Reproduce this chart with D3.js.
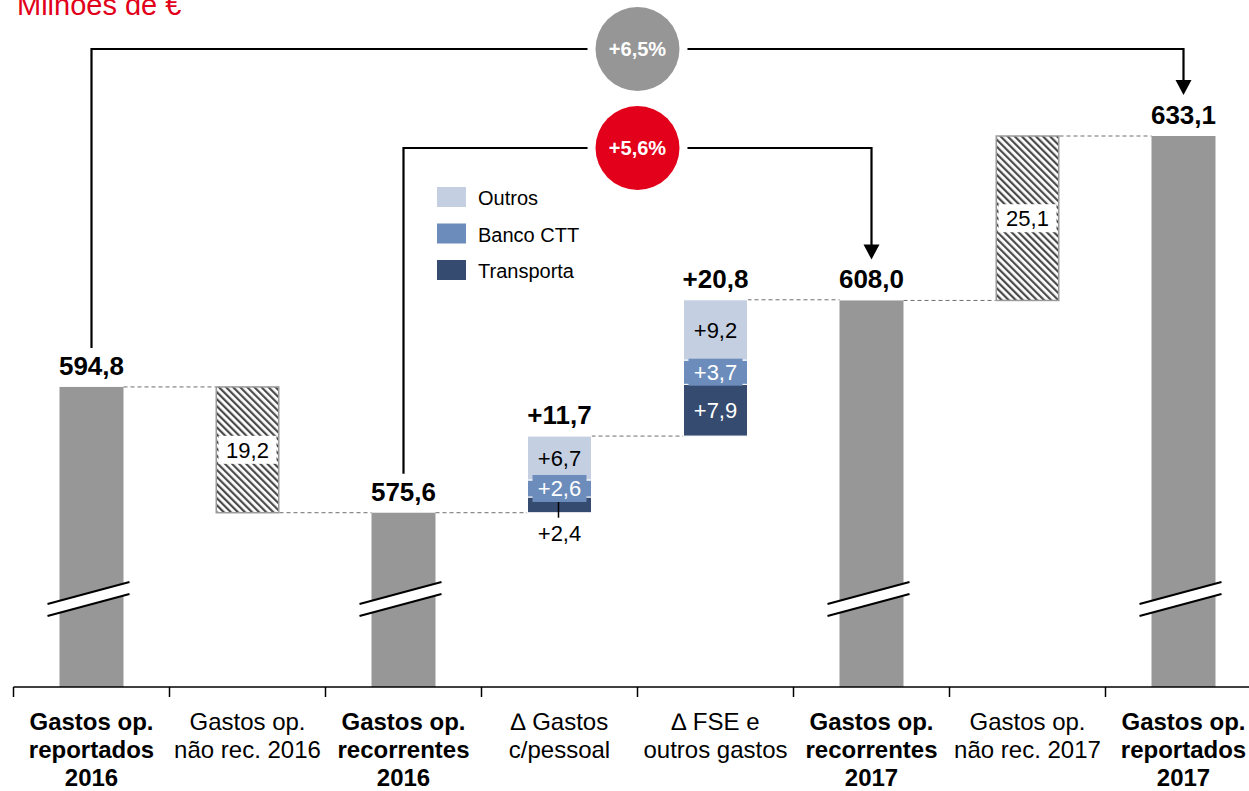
<!DOCTYPE html>
<html><head><meta charset="utf-8">
<script src="https://cdn.jsdelivr.net/npm/d3@7"></script>
<style>
html,body{margin:0;padding:0;background:#fff;}
svg{display:block;font-family:Arial,"Liberation Sans",sans-serif;}
</style></head>
<body>
<svg id="chart" width="1249" height="791"></svg>
<script>
// ---------- data ----------
const categoryLabels = [
  ["Gastos op.", "reportados", "2016"],
  ["Gastos op.", "não rec. 2016"],
  ["Gastos op.", "recorrentes", "2016"],
  ["∆ Gastos", "c/pessoal"],
  ["∆ FSE e", "outros gastos"],
  ["Gastos op.", "recorrentes", "2017"],
  ["Gastos op.", "não rec. 2017"],
  ["Gastos op.", "reportados", "2017"]
];
const barTypes = ["total", "hatch", "total", "stack", "stack", "total", "hatch", "total"];
const totalValues = [594.8, 575.6, 608.0, 633.1];      // bold total bars
const nonRecurring = [19.2, 25.1];                      // hatched bars (reduction 2016, increase 2017)
const seriesNames = ["Transporta", "Banco CTT", "Outros"];
const seriesColors = ["#354b70", "#6c8cbb", "#c4cfe2"];
const deltaPessoal = [2.4, 2.6, 6.7];
const deltaFSE = [7.9, 3.7, 9.2];
const deltaTotals = ["+11,7", "+20,8"];
const growthLabels = ["+6,5%", "+5,6%"];
const axisBase = 549.0;

// ---------- setup ----------
const svg = d3.select("#chart");
const axisY = 687;
const x = d3.scaleBand().domain(d3.range(8)).range([13.5, 13.5 + 156 * 8]).paddingInner(0).paddingOuter(0);
const y = d3.scaleLinear().domain([axisBase, 633.1]).range([axisY, 136]);
const barW = 64;
const cx = i => x(i) + x.bandwidth() / 2;
const fmt = v => d3.format(".1f")(v).replace(".", ",");
const grayBar = "#979797";
const red = "#e2001a";

// defs: hatch pattern
const defs = svg.append("defs");
const pat = defs.append("pattern").attr("id", "hatch").attr("patternUnits", "userSpaceOnUse")
  .attr("width", 5).attr("height", 5).attr("patternTransform", "rotate(-45)");
pat.append("rect").attr("width", 5).attr("height", 5).attr("fill", "#fff");
pat.append("rect").attr("width", 2.2).attr("height", 5).attr("fill", "#4a4a4a");

// title
svg.append("text").attr("x", 17).attr("y", 15).attr("fill", red)
  .attr("font-size", 29).text("Milhões de €");

// ---------- compute waterfall ----------
const bars = [];
let ti = 0, hi = 0, si = 0;
let level = totalValues[0];
const stacks = [deltaPessoal, deltaFSE];
barTypes.forEach((t, i) => {
  if (t === "total") {
    level = totalValues[ti++];
    bars.push({i, type: t, lo: axisBase, hi: level});
  } else if (t === "hatch") {
    const v = nonRecurring[hi];
    const prev = level;
    const next = hi === 0 ? prev - v : prev + v;
    bars.push({i, type: t, lo: Math.min(prev, next), hi: Math.max(prev, next), v});
    hi++;
  } else {
    const vals = stacks[si];
    let base = level;
    const segs = vals.map((v, k) => { const s = {k, lo: base, hi: base + v, v}; base += v; return s; });
    bars.push({i, type: t, lo: level, hi: base, segs, label: deltaTotals[si]});
    level = base; si++;
  }
});

// connectors (dashed)
const conn = svg.append("g");
bars.forEach((b, idx) => {
  if (idx === bars.length - 1) return;
  const nb = bars[idx + 1];
  let lv;
  if (b.type === "hatch") lv = (idx === 1) ? b.lo : b.hi;
  else lv = b.hi;
  conn.append("line")
    .attr("x1", cx(b.i) + barW / 2).attr("x2", cx(nb.i) - barW / 2)
    .attr("y1", y(lv)).attr("y2", y(lv))
    .attr("stroke", "#6e6e6e").attr("stroke-width", 1).attr("stroke-dasharray", "4,3");
});

// bars
const g = svg.append("g");
bars.forEach(b => {
  const x0 = cx(b.i) - barW / 2;
  if (b.type === "total") {
    g.append("rect").attr("x", x0).attr("width", barW)
      .attr("y", y(b.hi)).attr("height", y(b.lo) - y(b.hi)).attr("fill", grayBar);
    g.append("text").attr("x", cx(b.i)).attr("y", y(b.hi) - 12).attr("text-anchor", "middle")
      .attr("font-weight", "bold").attr("font-size", 26).attr("fill", "#000").text(fmt(b.hi));
    // axis break
    const by = axisY - 88;
    const bx1 = cx(b.i) - 44, bx2 = cx(b.i) + 38;
    const dy = 11;
    g.append("polygon").attr("points", `${bx1},${by + dy - 6} ${bx2},${by - dy - 6} ${bx2},${by - dy + 6} ${bx1},${by + dy + 6}`)
      .attr("fill", "#fff");
    [-6, 6].forEach(o => g.append("line").attr("x1", bx1).attr("y1", by + dy + o).attr("x2", bx2).attr("y2", by - dy + o)
      .attr("stroke", "#000").attr("stroke-width", 2));
  } else if (b.type === "hatch") {
    g.append("rect").attr("x", x0 + 0.75).attr("width", barW - 1.5)
      .attr("y", y(b.hi)).attr("height", y(b.lo) - y(b.hi))
      .attr("fill", "url(#hatch)").attr("stroke", "#9a9a9a").attr("stroke-width", 1.5);
    const my = (y(b.hi) + y(b.lo)) / 2;
    g.append("rect").attr("x", x0 + 3).attr("width", barW - 6).attr("y", my - 14).attr("height", 28).attr("fill", "#fff");
    g.append("text").attr("x", cx(b.i)).attr("y", my + 8).attr("text-anchor", "middle")
      .attr("font-size", 22).attr("fill", "#000").text(fmt(b.v));
  } else {
    b.segs.forEach(s => {
      g.append("rect").attr("x", x0).attr("width", barW)
        .attr("y", y(s.hi)).attr("height", y(s.lo) - y(s.hi))
        .attr("fill", seriesColors[s.k]).attr("stroke", "#fff").attr("stroke-width", 1);
    });
    b.segs.forEach(s => {
      const h = y(s.lo) - y(s.hi);
      const txt = "+" + fmt(s.v);
      const tc = s.k === 2 ? "#000" : "#fff";
      const my = (y(s.hi) + y(s.lo)) / 2;
      if (h < 16.5) {
        g.append("line").attr("x1", cx(b.i) - 1).attr("x2", cx(b.i) - 1).attr("y1", my - 3).attr("y2", y(s.lo) + 5)
          .attr("stroke", "#000").attr("stroke-width", 1.5);
        g.append("text").attr("x", cx(b.i)).attr("y", y(s.lo) + 28).attr("text-anchor", "middle")
          .attr("font-size", 22).attr("fill", "#000").text(txt);
      } else {
        g.append("rect").attr("x", cx(b.i) - 27).attr("width", 54).attr("y", my - 13.5).attr("height", 27)
          .attr("fill", seriesColors[s.k]);
        g.append("text").attr("x", cx(b.i)).attr("y", my + 8).attr("text-anchor", "middle")
          .attr("font-size", 22).attr("fill", tc).text(txt);
      }
    });
    g.append("text").attr("x", cx(b.i)).attr("y", y(b.hi) - 12).attr("text-anchor", "middle")
      .attr("font-weight", "bold").attr("font-size", 26).attr("fill", "#000").text(b.label);
  }
});

// axis
const axis = d3.axisBottom(x).tickSize(0).tickFormat("");
const ag = svg.append("g").attr("transform", `translate(0,${axisY})`).call(axis);
ag.select(".domain").attr("stroke", "#000").attr("stroke-width", 1.5).attr("d", `M13.5,0H1249`);
d3.range(8).forEach(i => ag.append("line").attr("x1", x(i)).attr("x2", x(i)).attr("y1", 0).attr("y2", 10)
  .attr("stroke", "#000").attr("stroke-width", 1.5));
// category labels
categoryLabels.forEach((lines, i) => {
  const bold = barTypes[i] === "total";
  const t = svg.append("text").attr("text-anchor", "middle").attr("font-size", 24)
    .attr("font-weight", bold ? "bold" : "normal").attr("fill", "#000");
  lines.forEach((ln, k) => t.append("tspan").attr("x", cx(i)).attr("y", 730 + k * 28).text(ln));
});

// legend
const lg = svg.append("g");
[2, 1, 0].forEach((k, j) => {
  lg.append("rect").attr("x", 437).attr("y", 187 + j * 36.5).attr("width", 29).attr("height", 20).attr("fill", seriesColors[k]);
  lg.append("text").attr("x", 478).attr("y", 205 + j * 36.5).attr("font-size", 20).attr("fill", "#000").text(seriesNames[k]);
});

// growth arrows
function growth(iFrom, iTo, vFrom, vTo, lineY, label, color) {
  const xa = cx(iFrom), xb = cx(iTo);
  const ya = y(vFrom) - 39, yb = y(vTo) - 41;
  const ag2 = svg.append("g");
  ag2.append("path").attr("d", `M${xa},${ya}V${lineY}H${xb}V${yb - 14}`)
    .attr("fill", "none").attr("stroke", "#000").attr("stroke-width", 2.2);
  ag2.append("polygon").attr("points", `${xb - 8},${yb - 15} ${xb + 8},${yb - 15} ${xb},${yb}`).attr("fill", "#000");
  const mx = (xa + xb) / 2;
  ag2.append("circle").attr("cx", mx).attr("cy", lineY).attr("r", 50).attr("fill", "#fff");
  ag2.append("circle").attr("cx", mx).attr("cy", lineY).attr("r", 42).attr("fill", color);
  ag2.append("text").attr("x", mx).attr("y", lineY + 7).attr("text-anchor", "middle").attr("font-weight", "bold")
    .attr("font-size", 20).attr("fill", "#fff").text(label);
}
growth(0, 7, totalValues[0], totalValues[3], 49, growthLabels[0], "#969696");
growth(2, 5, totalValues[1], totalValues[2], 148, growthLabels[1], red);
</script>
</body></html>
